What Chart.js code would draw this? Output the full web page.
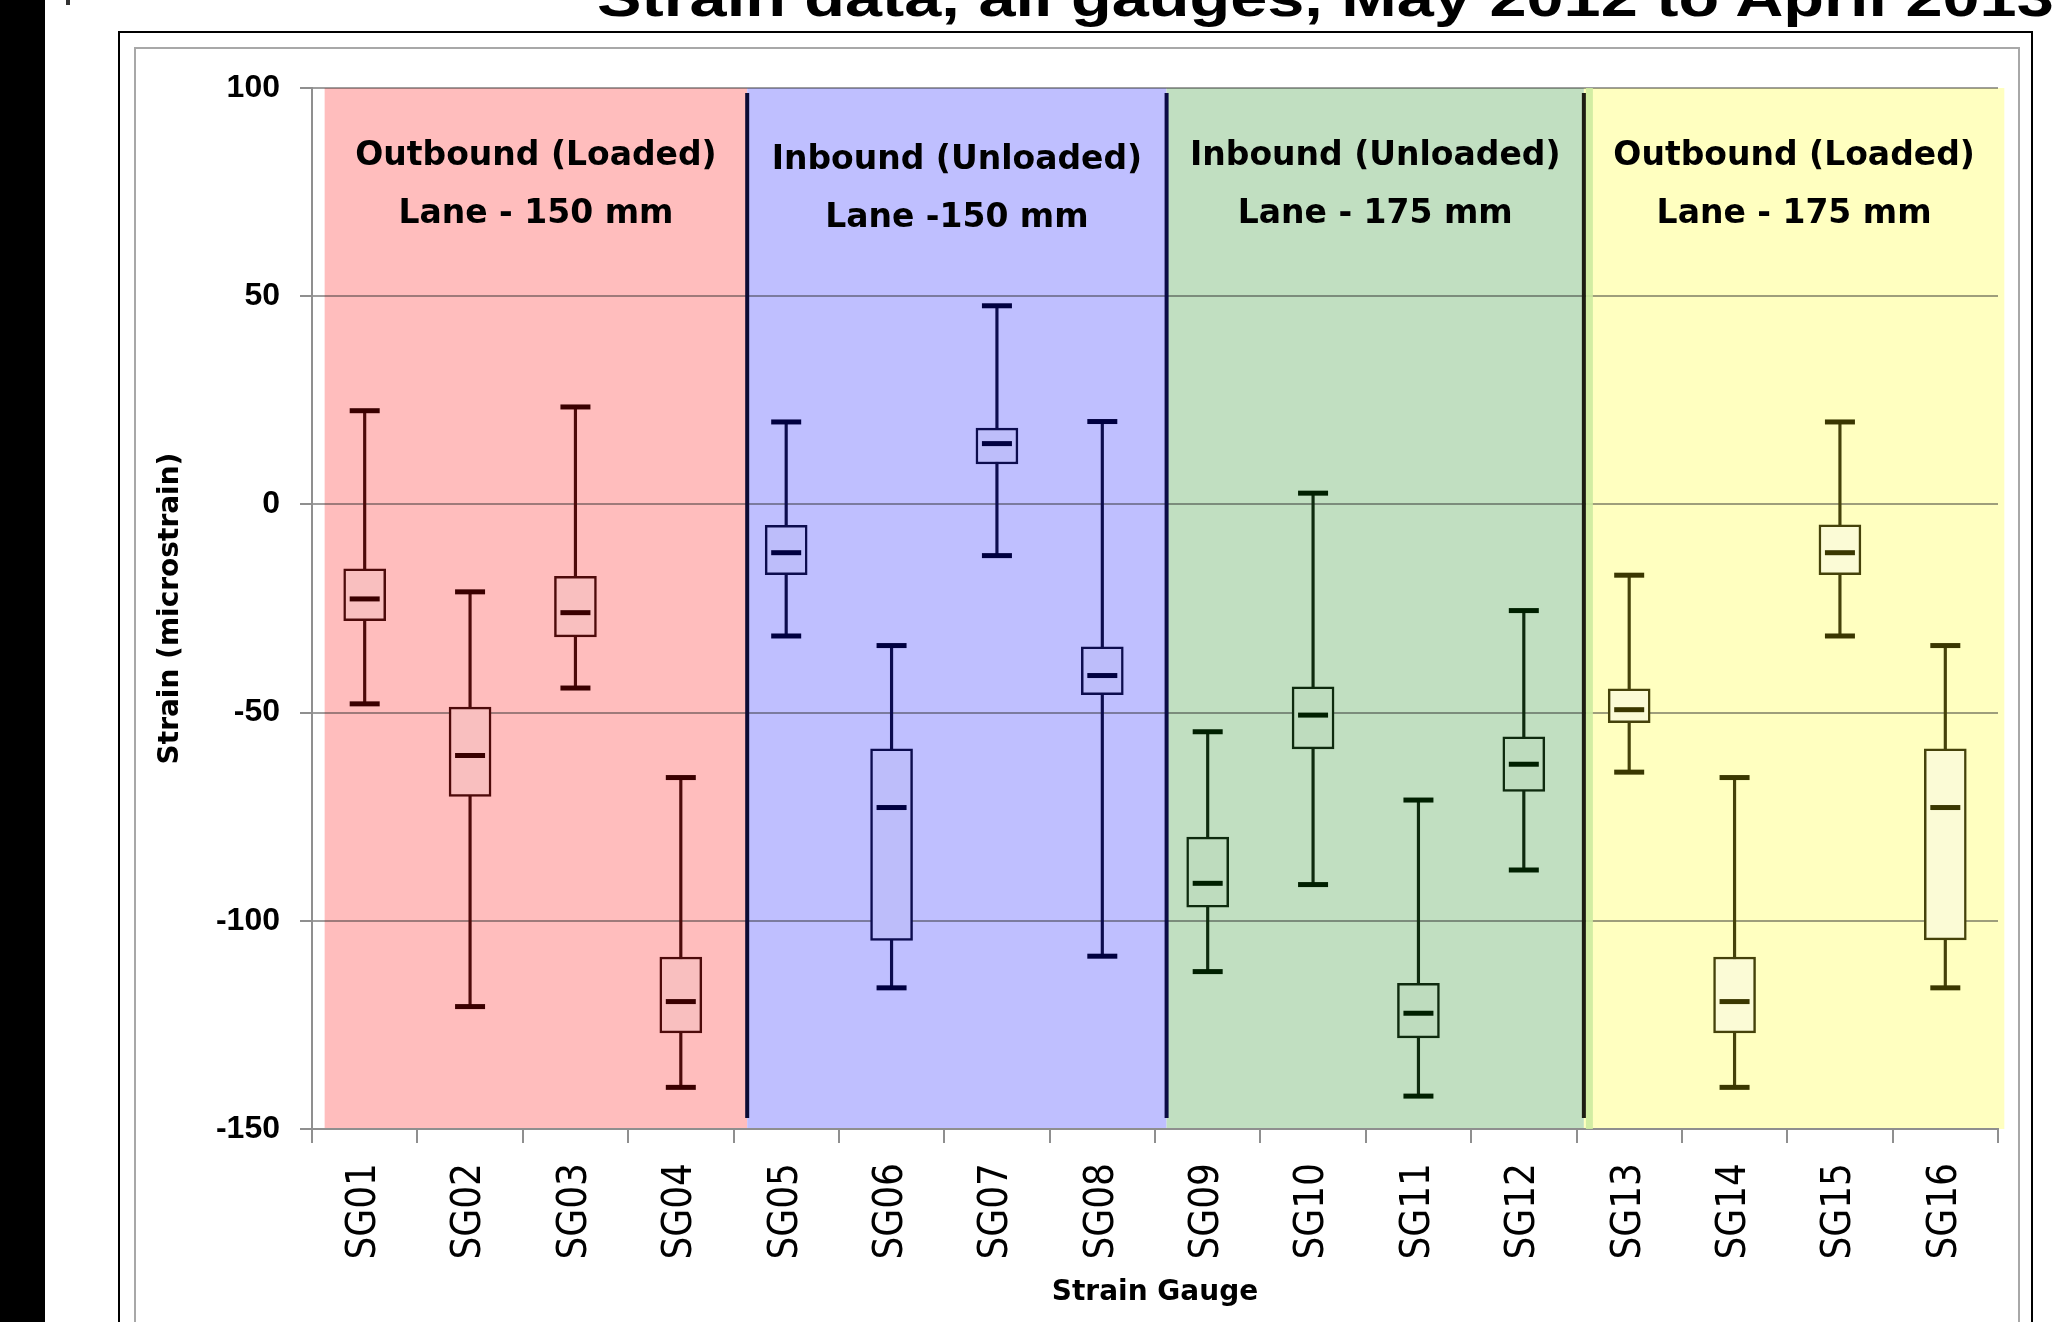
<!DOCTYPE html>
<html>
<head>
<meta charset="utf-8">
<title>Strain data, all gauges, May 2012 to April 2013</title>
<script src="https://cdn.jsdelivr.net/npm/chart.js@4.4.1/dist/chart.umd.min.js"></script>
<style>
  html, body { margin: 0; padding: 0; background: #fff; width: 2056px; height: 1322px; overflow: hidden; position: relative; }
  #leftbar { position: absolute; left: 0; top: 0; width: 45px; height: 1322px; background: #000; }
  #mark { position: absolute; left: 66px; top: 0; width: 4px; height: 5px; background: #333; }
  #title { position: absolute; left: 597px; top: -30px; font: bold 54px 'Liberation Sans', Arial, sans-serif; line-height: 54px;
           white-space: nowrap; transform: scaleX(1.234); transform-origin: 0 0; color: #000; }
  #outer { position: absolute; left: 118px; top: 31px; width: 1915px; height: 1400px; border: 2px solid #000; box-sizing: border-box; }
  #inner { position: absolute; left: 134px; top: 47px; width: 1886px; height: 1400px; border: 2px solid #a8a8a8; box-sizing: border-box; }
  #chart { position: absolute; left: 0; top: 0; }
</style>
</head>
<body>
<div id="leftbar"></div>
<div id="mark"></div>
<div id="title">Strain data, all gauges, May 2012 to April 2013</div>
<div id="outer"></div>
<div id="inner"></div>
<canvas id="chart" width="2056" height="1322"></canvas>
<script>
// Strain gauges along the x axis
const gauges = ['SG01', 'SG02', 'SG03', 'SG04', 'SG05', 'SG06', 'SG07', 'SG08',
                'SG09', 'SG10', 'SG11', 'SG12', 'SG13', 'SG14', 'SG15', 'SG16'];

// Box-plot statistics per gauge (microstrain)
const maxVals = [22.5, -21.0, 23.4, -65.6, 19.8, -33.9, 47.7, 19.9, -54.6, 2.7, -71.0, -25.5, -17.0, -65.6, 19.8, -33.9];
const q3Vals  = [-15.5, -48.7, -17.3, -108.7, -5.0, -58.7, 18.3, -34.2, -79.9, -43.8, -115.0, -55.8, -44.3, -108.7, -4.9, -58.7];
const medVals = [-22.7, -60.3, -26.0, -119.4, -11.6, -72.8, 14.6, -41.1, -91.0, -50.6, -122.2, -62.4, -49.3, -119.4, -11.6, -72.8];
const q1Vals  = [-27.9, -70.1, -31.8, -126.9, -16.9, -104.7, 9.7, -45.7, -96.7, -58.7, -128.1, -68.9, -52.4, -126.9, -16.9, -104.6];
const minVals = [-47.9, -120.6, -44.1, -140.0, -31.6, -116.1, -12.3, -108.5, -112.2, -91.3, -142.1, -87.8, -64.3, -140.0, -31.6, -116.1];

// Lane group of each gauge, and the group headings
const gaugeGroup = [0, 0, 0, 0, 1, 1, 1, 1, 2, 2, 2, 2, 3, 3, 3, 3];
const groupTitles = [
  ['Outbound (Loaded)', 'Lane - 150 mm'],
  ['Inbound (Unloaded)', 'Lane -150 mm'],
  ['Inbound (Unloaded)', 'Lane - 175 mm'],
  ['Outbound (Loaded)', 'Lane - 175 mm']
];

// Y axis tick values
const yTicks = [100, 50, 0, -50, -100, -150];

// Styling per lane group
const bandFill  = ['#ffbdbd', '#bfbfff', '#c1dfc1', '#ffffc0'];
const boxFill   = ['#f9bfbf', '#bdbdfa', '#bedcbe', '#fbfbd6'];
const inkLine   = ['#4d0a0a', '#0c0c4e', '#0e2a0e', '#45420a'];
const inkCap    = ['#3a0000', '#000040', '#002000', '#3a3700'];
const dividerInk = ['#0b0b35', '#0b0b45', '#1c1c12'];

const byGroup = arr => gaugeGroup.map(g => arr[g]);

// Coloured lane bands with separators and headings
const laneBands = {
  id: 'laneBands',
  beforeDraw(chart, args, opts) {
    const { ctx, scales: { x, y } } = chart;
    ctx.save();
    const yTop = y.getPixelForValue(yTicks[0]);
    const yBot = y.getPixelForValue(yTicks[yTicks.length - 1]);
    opts.extents.forEach((ext, g) => {
      const x0 = x.getPixelForValue(ext[0]);
      const x1 = x.getPixelForValue(ext[1]);
      ctx.fillStyle = bandFill[g];
      ctx.fillRect(x0, yTop, x1 - x0, yBot - yTop);
    });
    ctx.restore();
  },
  beforeDatasetsDraw(chart, args, opts) {
    const { ctx, chartArea: a, scales: { x } } = chart;
    ctx.save();
    // soft edge where the last band begins
    const last = opts.extents[opts.extents.length - 1];
    const ex = x.getPixelForValue(last[0]);
    ctx.fillStyle = 'rgba(205,235,160,0.9)';
    ctx.fillRect(ex + 2, a.top, 7, a.bottom - a.top);
    // separators between lanes
    ctx.lineWidth = 4;
    for (let g = 1; g < opts.extents.length; g++) {
      const px = x.getPixelForValue(opts.extents[g][0]);
      ctx.strokeStyle = dividerInk[g - 1];
      ctx.beginPath();
      ctx.moveTo(px, a.top + 5);
      ctx.lineTo(px, a.bottom - 11);
      ctx.stroke();
    }
    // lane headings
    ctx.fillStyle = '#000';
    ctx.textAlign = 'center';
    ctx.textBaseline = 'alphabetic';
    ctx.font = 'bold 33px "DejaVu Sans", sans-serif';
    opts.extents.forEach((ext, g) => {
      const cx = (x.getPixelForValue(ext[0]) + x.getPixelForValue(ext[1])) / 2;
      const dy = g === 1 ? 4 : 0;
      ctx.fillText(groupTitles[g][0], cx, a.top + 77 + dy);
      ctx.fillText(groupTitles[g][1], cx, a.top + 135 + dy);
    });
    ctx.restore();
  }
};

const capPoint = {
  type: 'line',
  showLine: false,
  pointStyle: 'line',
  pointRadius: 15,
  pointHoverRadius: 15,
  pointBorderWidth: 5,
  pointHoverBorderWidth: 5,
  pointBorderColor: byGroup(inkCap),
  order: 1
};

new Chart(document.getElementById('chart'), {
  type: 'bar',
  data: {
    labels: gauges,
    datasets: [
      {
        label: 'Range',
        data: gauges.map((g, i) => [minVals[i], maxVals[i]]),
        backgroundColor: byGroup(inkLine),
        barThickness: 2.5,
        grouped: false,
        order: 3
      },
      {
        label: 'Interquartile range',
        data: gauges.map((g, i) => [q1Vals[i], q3Vals[i]]),
        backgroundColor: byGroup(boxFill),
        borderColor: byGroup(inkLine),
        borderWidth: 2.5,
        borderSkipped: false,
        barThickness: 42,
        grouped: false,
        order: 2
      },
      Object.assign({ label: 'Maximum', data: maxVals }, capPoint),
      Object.assign({ label: 'Minimum', data: minVals }, capPoint),
      Object.assign({ label: 'Median', data: medVals }, capPoint)
    ]
  },
  options: {
    responsive: false,
    animation: false,
    events: [],
    devicePixelRatio: 1,
    layout: { padding: { left: 140, right: 58, top: 88, bottom: 0 } },
    plugins: {
      legend: { display: false },
      tooltip: { enabled: false },
      laneBands: { extents: [[-0.38, 3.63], [3.63, 7.61], [7.61, 11.57], [11.57, 15.56]] }
    },
    scales: {
      x: {
        offset: true,
        grid: { offset: true, drawOnChartArea: false, drawTicks: true, tickLength: 14, tickWidth: 2, tickColor: '#8f8f8f', lineWidth: 2 },
        border: { display: true, color: '#8f8f8f', width: 2 },
        ticks: {
          autoSkip: false, maxRotation: 90, minRotation: 90, padding: 20, color: '#000',
          font: { family: "'Liberation Sans Narrow', 'DejaVu Sans Condensed', sans-serif", size: 40 }
        },
        title: {
          display: true, text: 'Strain Gauge', color: '#000',
          font: { family: "'DejaVu Sans', sans-serif", weight: 'bold', size: 28 },
          padding: { top: 0, bottom: 12 }
        },
        afterFit(s) { s.height = 193; s.paddingLeft = 0; s.paddingRight = 0; }
      },
      y: {
        min: yTicks[yTicks.length - 1],
        max: yTicks[0],
        afterBuildTicks(s) { s.ticks = yTicks.map(v => ({ value: v })); },
        ticks: { padding: 20, color: '#000', font: { family: "'Liberation Sans', Arial, sans-serif", weight: 'bold', size: 32 } },
        grid: { color: 'rgba(40,40,40,0.45)', lineWidth: 2, drawTicks: true, tickLength: 12, tickColor: '#8f8f8f', tickWidth: 2 },
        border: { display: true, color: '#8f8f8f', width: 2 },
        title: {
          display: true, text: 'Strain (microstrain)', color: '#000',
          font: { family: "'DejaVu Sans', sans-serif", weight: 'bold', size: 28 },
          padding: { top: 14, bottom: 0 }
        },
        afterFit(s) { s.width = 172; }
      }
    }
  },
  plugins: [laneBands]
});
</script>
</body>
</html>
